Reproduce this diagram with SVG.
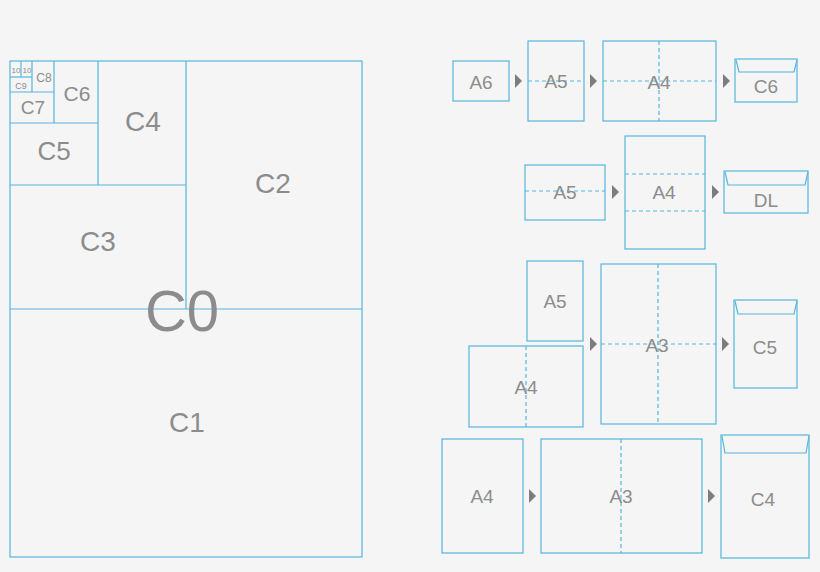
<svg xmlns="http://www.w3.org/2000/svg" width="820" height="572" viewBox="0 0 820 572">
<style>
.b{fill:none;stroke:#55b6de;stroke-width:1.2}
.d{fill:none;stroke:#55b6de;stroke-width:1.2;stroke-dasharray:4 3}
text{font-family:"Helvetica Neue","Liberation Sans",Arial,sans-serif;fill:#8c8c8c;text-anchor:middle;font-weight:300}
.ar{fill:#7d7d7d}
</style>
<rect width="820" height="572" fill="#f5f5f5"/>
<g id="left">
<rect class="b" x="10" y="61" width="352" height="496"/>
<line class="b" x1="10" y1="309" x2="362" y2="309"/>
<line class="b" x1="186" y1="61" x2="186" y2="309"/>
<line class="b" x1="10" y1="185" x2="186" y2="185"/>
<line class="b" x1="98" y1="61" x2="98" y2="185"/>
<line class="b" x1="10" y1="123" x2="98" y2="123"/>
<line class="b" x1="54" y1="61" x2="54" y2="123"/>
<line class="b" x1="10" y1="92" x2="54" y2="92"/>
<line class="b" x1="32" y1="61" x2="32" y2="92"/>
<line class="b" x1="10" y1="77" x2="32" y2="77"/>
<line class="b" x1="21" y1="61" x2="21" y2="77"/>
<text x="187" y="432" font-size="28">C1</text>
<text x="273" y="193" font-size="28">C2</text>
<text x="98" y="251" font-size="28">C3</text>
<text x="143" y="131" font-size="28">C4</text>
<text x="54" y="160" font-size="26">C5</text>
<text x="77" y="101" font-size="21">C6</text>
<text x="33" y="114" font-size="19">C7</text>
<text x="44" y="82" font-size="12">C8</text>
<text x="21" y="89" font-size="9">C9</text>
<text x="16" y="73" font-size="8">10</text>
<text x="27" y="73" font-size="8">10</text>
<text x="182" y="331" font-size="58">C0</text>
</g>
<g id="row1">
<rect class="b" x="453" y="61" width="56" height="40"/><text x="481" y="89" font-size="19">A6</text>
<rect class="b" x="528" y="41" width="56" height="80"/><line class="d" x1="528" y1="81" x2="584" y2="81"/><text x="556" y="88" font-size="19">A5</text>
<rect class="b" x="603" y="41" width="113" height="80"/><line class="d" x1="603" y1="81" x2="716" y2="81"/><line class="d" x1="659" y1="41" x2="659" y2="121"/><text x="659" y="89" font-size="19">A4</text>
<rect class="b" x="735" y="59" width="62" height="43"/><path class="b" d="M736 60 L739 72 L794 72 L797 60"/><text x="766" y="93" font-size="19">C6</text>
</g>
<g id="row2">
<rect class="b" x="525" y="165" width="80" height="55"/><line class="d" x1="525" y1="191" x2="605" y2="191"/><text x="565" y="199" font-size="19">A5</text>
<rect class="b" x="625" y="136" width="80" height="113"/><line class="d" x1="625" y1="174" x2="705" y2="174"/><line class="d" x1="625" y1="211" x2="705" y2="211"/><text x="664" y="199" font-size="19">A4</text>
<rect class="b" x="724" y="171" width="84" height="42"/><path class="b" d="M725 172 L728 185 L805 185 L808 172"/><text x="766" y="207" font-size="19">DL</text>
</g>
<g id="row3">
<rect class="b" x="527" y="261" width="56" height="80"/><text x="555" y="308" font-size="19">A5</text>
<rect class="b" x="469" y="346" width="114" height="81"/><line class="d" x1="526" y1="346" x2="526" y2="427"/><text x="526" y="394" font-size="19">A4</text>
<rect class="b" x="601" y="264" width="115" height="160"/><line class="d" x1="601" y1="344" x2="716" y2="344"/><line class="d" x1="658" y1="264" x2="658" y2="424"/><text x="657" y="352" font-size="19">A3</text>
<rect class="b" x="734" y="300" width="63" height="88"/><path class="b" d="M735 301 L738 314 L794 314 L797 301"/><text x="765" y="354" font-size="19">C5</text>
</g>
<g id="row4">
<rect class="b" x="442" y="439" width="81" height="114"/><text x="482" y="503" font-size="19">A4</text>
<rect class="b" x="541" y="439" width="161" height="114"/><line class="d" x1="621" y1="439" x2="621" y2="553"/><text x="621" y="503" font-size="19">A3</text>
<rect class="b" x="721" y="435" width="88" height="123"/><path class="b" d="M722 436 L725 453 L806 453 L809 436"/><text x="763" y="506" font-size="19">C4</text>
</g>
<g id="connectors">
<polygon class="ar" points="515,74 522,81 515,88"/>
<polygon class="ar" points="590,74 597,81 590,88"/>
<polygon class="ar" points="723,74 730,81 723,88"/>
<polygon class="ar" points="612,185 619,192 612,199"/>
<polygon class="ar" points="712,185 719,192 712,199"/>
<polygon class="ar" points="590,337 597,344 590,351"/>
<polygon class="ar" points="722,337 729,344 722,351"/>
<polygon class="ar" points="529,489 536,496 529,503"/>
<polygon class="ar" points="708,489 715,496 708,503"/>
</g>
</svg>
